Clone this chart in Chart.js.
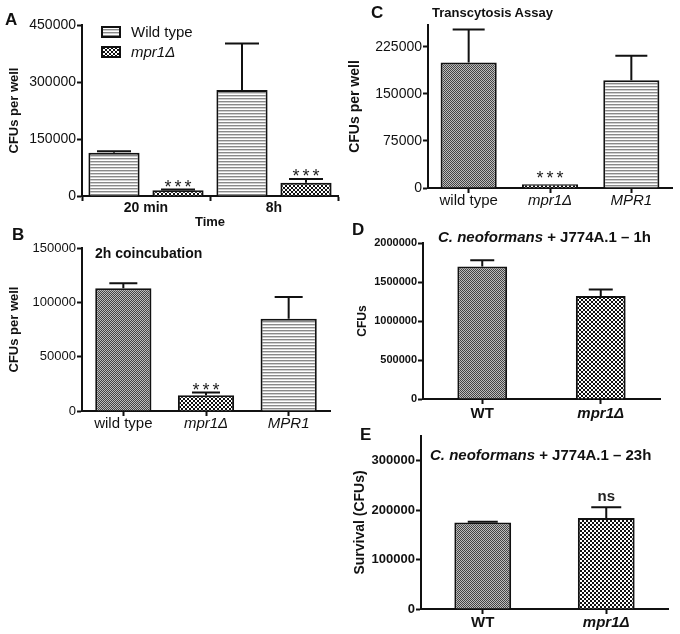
<!DOCTYPE html>
<html>
<head>
<meta charset="utf-8">
<script src="https://cdn.jsdelivr.net/npm/chart.js@4.4.1/dist/chart.umd.min.js"></script>
<style>
  html, body { margin: 0; padding: 0; background: #fff; }
  #fig { position: relative; width: 680px; height: 634px; overflow: hidden;
         font-family: "Liberation Sans", Arial, sans-serif; color: #111; }
  #fig canvas { position: absolute; }
  .lbl { position: absolute; font-weight: bold; white-space: nowrap; line-height: 1; }
</style>
</head>
<body>
<div id="fig">
  <canvas id="chartA"></canvas>
  <canvas id="chartB"></canvas>
  <canvas id="chartC"></canvas>
  <canvas id="chartD"></canvas>
  <canvas id="chartE"></canvas>

  <div class="lbl" style="left:5px;top:11px;font-size:17px">A</div>
  <div class="lbl" style="left:12px;top:226px;font-size:17px">B</div>
  <div class="lbl" style="left:371px;top:4px;font-size:17px">C</div>
  <div class="lbl" style="left:352px;top:221px;font-size:17px">D</div>
  <div class="lbl" style="left:360px;top:426px;font-size:17px">E</div>

  <div class="lbl" style="left:95px;top:246px;font-size:14px">2h coincubation</div>
  <div class="lbl" style="left:432px;top:6px;font-size:13px">Transcytosis Assay</div>
  <div class="lbl" style="left:438px;top:229px;font-size:15px"><i>C. neoformans</i> + J774A.1 – 1h</div>
  <div class="lbl" style="left:430px;top:447px;font-size:15px"><i>C. neoformans</i> + J774A.1 – 23h</div>
</div>

<script>
// ── Data ──────────────────────────────────────────────────────────────────────
// A: CFUs per well over time
const catsA    = ["20 min", "8h"];
const seriesA  = ["Wild type", "mpr1Δ"];
const wtA      = [114000, 279000];
const wtErrA   = [4000, 122000];
const mutA     = [15000, 35000];
const mutErrA  = [2000, 10000];
const mutSigA  = ["***", "***"];
const ticksA   = [0, 150000, 300000, 450000];
const yMaxA    = 450000;

// B: 2h coincubation
const catsB    = ["wild type", "mpr1Δ", "MPR1"];
const valsB    = [113000, 14500, 85000];
const errB     = [4500, 2500, 20000];
const sigB     = ["", "***", ""];
const ticksB   = [0, 50000, 100000, 150000];
const yMaxB    = 150000;

// C: transcytosis assay
const catsC    = ["wild type", "mpr1Δ", "MPR1"];
const valsC    = [200000, 6000, 172000];
const errC     = [53000, 0, 39000];
const sigC     = ["", "***", ""];
const ticksC   = [0, 75000, 150000, 225000];
const yMaxC    = 260000;

// D: J774A.1, 1h
const catsD    = ["WT", "mpr1Δ"];
const valsD    = [1700000, 1320000];
const errD     = [80000, 85000];
const ticksD   = [0, 500000, 1000000, 1500000, 2000000];
const yMaxD    = 2000000;

// E: J774A.1, 23h
const catsE    = ["WT", "mpr1Δ"];
const valsE    = [175000, 184000];
const errE     = [1500, 22000];
const sigE     = ["", "ns"];
const ticksE   = [0, 100000, 200000, 300000];
const yMaxE    = 350000;

// ── Style helpers ─────────────────────────────────────────────────────────────
const INK   = "#111";
const FONT  = "'Liberation Sans', Arial, sans-serif";
const PAD_T = 14;
const PAD_R = 6;

// plot frames: x = canvas left, l/t/r/b = plot area, bottom = canvas bottom
const frameA = { x: 7,   l: 82,  t: 25,  r: 338, b: 196, bottom: 230 };
const frameB = { x: 7,   l: 82,  t: 248, r: 330, b: 411, bottom: 437 };
const frameC = { x: 347, l: 428, t: 25,  r: 672, b: 188, bottom: 216 };
const frameD = { x: 355, l: 423, t: 243, r: 660, b: 399, bottom: 427 };
const frameE = { x: 352, l: 421, t: 436, r: 668, b: 609, bottom: 634 };

function placeCanvas(id, f) {
  const el  = document.getElementById(id);
  const top = f.t - PAD_T;
  el.width  = f.r + PAD_R - f.x;
  el.height = f.bottom - top;
  el.style.left = f.x + "px";
  el.style.top  = top + "px";
  return el;
}

function makePattern(ctx, kind) {
  const c = document.createElement("canvas");
  const g = c.getContext("2d");
  if (kind === "stripe") {
    c.width = 4; c.height = 3;
    g.fillStyle = "#fff";    g.fillRect(0, 0, 4, 3);
    g.fillStyle = "#8a8a8a"; g.fillRect(0, 0, 4, 1);
    g.fillStyle = "#cfcfcf"; g.fillRect(0, 1, 4, 1);
  } else if (kind === "fine") {
    c.width = 2; c.height = 2;
    g.fillStyle = "#bdbdbd"; g.fillRect(0, 0, 2, 2);
    g.fillStyle = "#444";    g.fillRect(0, 0, 1, 1); g.fillRect(1, 1, 1, 1);
  } else {
    c.width = 4; c.height = 4;
    g.fillStyle = "#fff"; g.fillRect(0, 0, 4, 4);
    g.fillStyle = "#111"; g.fillRect(0, 0, 2, 2); g.fillRect(2, 2, 2, 2);
  }
  return ctx.createPattern(c, "repeat");
}

// ── Plugins ───────────────────────────────────────────────────────────────────
// upper error bars (mean + SEM) and significance marks above them
const errorBarPlugin = {
  id: "errorBars",
  afterDatasetsDraw(chart, args, opts) {
    const { ctx } = chart;
    const yS = chart.scales.y;
    chart.data.datasets.forEach((ds, d) => {
      const errs = opts.errors[d] || [];
      const sig  = (opts.labels || [])[d] || [];
      chart.getDatasetMeta(d).data.forEach((bar, i) => {
        const err = errs[i] || 0;
        const top = yS.getPixelForValue(ds.data[i] + err);
        ctx.save();
        ctx.strokeStyle = INK;
        ctx.lineWidth = 2;
        if (err > 0) {
          ctx.beginPath();
          ctx.moveTo(bar.x, bar.y);
          ctx.lineTo(bar.x, top);
          ctx.moveTo(bar.x - opts.cap / 2, top);
          ctx.lineTo(bar.x + opts.cap / 2, top);
          ctx.stroke();
        }
        if (sig[i]) {
          ctx.font = opts.font;
          ctx.fillStyle = "#222";
          ctx.textAlign = "center";
          ctx.textBaseline = "alphabetic";
          let sx = bar.x;
          if (opts.spacing) { ctx.letterSpacing = opts.spacing + "px"; sx += opts.spacing / 2; }
          ctx.fillText(sig[i], sx, top + opts.offset);
        }
        ctx.restore();
      });
    });
  },
};

// legend with pattern swatches, drawn inside the plot area
const boxLegendPlugin = {
  id: "boxLegend",
  afterDraw(chart, args, opts) {
    if (!opts.show) return;
    const { ctx, chartArea } = chart;
    chart.data.datasets.forEach((ds, i) => {
      const x = chartArea.left + opts.x;
      const y = chartArea.top + opts.y + i * opts.gap;
      ctx.save();
      ctx.fillStyle = ds.backgroundColor;
      ctx.fillRect(x, y, opts.boxW, opts.boxH);
      ctx.lineWidth = 2;
      ctx.strokeStyle = INK;
      ctx.strokeRect(x, y, opts.boxW, opts.boxH);
      ctx.font = (opts.italic[i] ? "italic " : "") + "15px " + FONT;
      ctx.fillStyle = INK;
      ctx.textBaseline = "middle";
      ctx.fillText(ds.label, x + opts.boxW + 11, y + opts.boxH / 2 + 1);
      ctx.restore();
    });
  },
};

// ── Scale builders ────────────────────────────────────────────────────────────
function yScale(f, max, ticks, tickFont, title, titleFont) {
  return {
    min: 0,
    max,
    afterBuildTicks: (s) => { s.ticks = ticks.map((v) => ({ value: v })); },
    afterFit: (s) => { s.width = f.l - f.x; },
    border: { display: true, color: INK, width: 2 },
    grid: { drawOnChartArea: false, drawTicks: true, tickLength: 5, tickColor: INK, tickWidth: 2 },
    ticks: { font: tickFont, color: INK, padding: 1, callback: (v) => String(v) },
    title: { display: true, text: title, font: titleFont, color: INK, padding: 0 },
  };
}

function xScale(f, italic, font, pad, offsetGrid, title) {
  return {
    afterFit: (s) => { s.height = f.bottom - f.b; },
    border: { display: true, color: INK, width: 2 },
    grid: { offset: offsetGrid, drawOnChartArea: false, drawTicks: true, tickLength: 5, tickColor: INK, tickWidth: 2 },
    ticks: {
      color: INK,
      padding: pad,
      maxRotation: 0,
      autoSkip: false,
      font: (c) => ({ ...font, style: italic[c.index] ? "italic" : "normal", lineHeight: 1 }),
    },
    title: title
      ? { display: true, text: title, font: { family: FONT, size: 13, weight: "bold" }, color: INK, padding: 0 }
      : { display: false },
  };
}

function baseOptions(f, scales, errOpts, legendOpts) {
  return {
    responsive: false,
    animation: false,
    devicePixelRatio: 1,
    layout: { padding: { top: PAD_T, right: PAD_R, left: 0, bottom: 0 } },
    scales,
    plugins: {
      legend: { display: false },
      tooltip: { enabled: false },
      errorBars: errOpts,
      boxLegend: legendOpts || { show: false },
    },
  };
}

const barStyle = { borderColor: INK, borderWidth: 2, categoryPercentage: 1 };
const STARS = "18px " + FONT;

// ── Panel A ───────────────────────────────────────────────────────────────────
const cvA = placeCanvas("chartA", frameA);
const ctxA = cvA.getContext("2d");
new Chart(cvA, {
  type: "bar",
  data: {
    labels: catsA,
    datasets: [
      { label: seriesA[0], data: wtA,  backgroundColor: makePattern(ctxA, "stripe"), barPercentage: 0.8, ...barStyle },
      { label: seriesA[1], data: mutA, backgroundColor: makePattern(ctxA, "coarse"), barPercentage: 0.8, ...barStyle },
    ],
  },
  options: baseOptions(frameA, {
    x: xScale(frameA, [false, false], { family: FONT, size: 14, weight: "bold" }, 0, true, "Time"),
    y: yScale(frameA, yMaxA, ticksA, { family: FONT, size: 14 }, "CFUs per well", { family: FONT, size: 13, weight: "bold" }),
  },
  { errors: [wtErrA, mutErrA], labels: [[], mutSigA], cap: 34, font: STARS, spacing: 3, offset: 3 },
  { show: true, x: 20, y: 2, gap: 20, boxW: 18, boxH: 10, italic: [false, true] }),
  plugins: [errorBarPlugin, boxLegendPlugin],
});

// ── Panel B ───────────────────────────────────────────────────────────────────
const cvB = placeCanvas("chartB", frameB);
const ctxB = cvB.getContext("2d");
new Chart(cvB, {
  type: "bar",
  data: {
    labels: catsB,
    datasets: [{
      data: valsB,
      backgroundColor: [makePattern(ctxB, "fine"), makePattern(ctxB, "coarse"), makePattern(ctxB, "stripe")],
      barPercentage: 0.68,
      ...barStyle,
    }],
  },
  options: baseOptions(frameB, {
    x: xScale(frameB, [false, true, true], { family: FONT, size: 15 }, 0, false),
    y: yScale(frameB, yMaxB, ticksB, { family: FONT, size: 13 }, "CFUs per well", { family: FONT, size: 13, weight: "bold" }),
  },
  { errors: [errB], labels: [sigB], cap: 28, font: STARS, spacing: 3, offset: 3 }),
  plugins: [errorBarPlugin, boxLegendPlugin],
});

// ── Panel C ───────────────────────────────────────────────────────────────────
const cvC = placeCanvas("chartC", frameC);
const ctxC = cvC.getContext("2d");
new Chart(cvC, {
  type: "bar",
  data: {
    labels: catsC,
    datasets: [{
      data: valsC,
      backgroundColor: [makePattern(ctxC, "fine"), makePattern(ctxC, "coarse"), makePattern(ctxC, "stripe")],
      barPercentage: 0.69,
      ...barStyle,
    }],
  },
  options: baseOptions(frameC, {
    x: xScale(frameC, [false, true, true], { family: FONT, size: 15 }, 0, false),
    y: yScale(frameC, yMaxC, ticksC, { family: FONT, size: 14 }, "CFUs per well", { family: FONT, size: 14, weight: "bold" }),
  },
  { errors: [errC], labels: [sigC], cap: 32, font: STARS, spacing: 3, offset: 0 }),
  plugins: [errorBarPlugin, boxLegendPlugin],
});

// ── Panel D ───────────────────────────────────────────────────────────────────
const cvD = placeCanvas("chartD", frameD);
const ctxD = cvD.getContext("2d");
new Chart(cvD, {
  type: "bar",
  data: {
    labels: catsD,
    datasets: [{
      data: valsD,
      backgroundColor: [makePattern(ctxD, "fine"), makePattern(ctxD, "coarse")],
      barPercentage: 0.42,
      ...barStyle,
    }],
  },
  options: baseOptions(frameD, {
    x: xScale(frameD, [false, true], { family: FONT, size: 15, weight: "bold" }, 2, false),
    y: yScale(frameD, yMaxD, ticksD, { family: FONT, size: 11, weight: "bold" }, "CFUs", { family: FONT, size: 12, weight: "bold" }),
  },
  { errors: [errD], labels: [[]], cap: 24, font: STARS, offset: 0 }),
  plugins: [errorBarPlugin, boxLegendPlugin],
});

// ── Panel E ───────────────────────────────────────────────────────────────────
const cvE = placeCanvas("chartE", frameE);
const ctxE = cvE.getContext("2d");
new Chart(cvE, {
  type: "bar",
  data: {
    labels: catsE,
    datasets: [{
      data: valsE,
      backgroundColor: [makePattern(ctxE, "fine"), makePattern(ctxE, "coarse")],
      barPercentage: 0.46,
      ...barStyle,
    }],
  },
  options: baseOptions(frameE, {
    x: xScale(frameE, [false, true], { family: FONT, size: 15, weight: "bold" }, 1, false),
    y: yScale(frameE, yMaxE, ticksE, { family: FONT, size: 13, weight: "bold" }, "Survival (CFUs)", { family: FONT, size: 14, weight: "bold" }),
  },
  { errors: [errE], labels: [sigE], cap: 30, font: "bold 15px " + FONT, offset: -6 }),
  plugins: [errorBarPlugin, boxLegendPlugin],
});
</script>
</body>
</html>
